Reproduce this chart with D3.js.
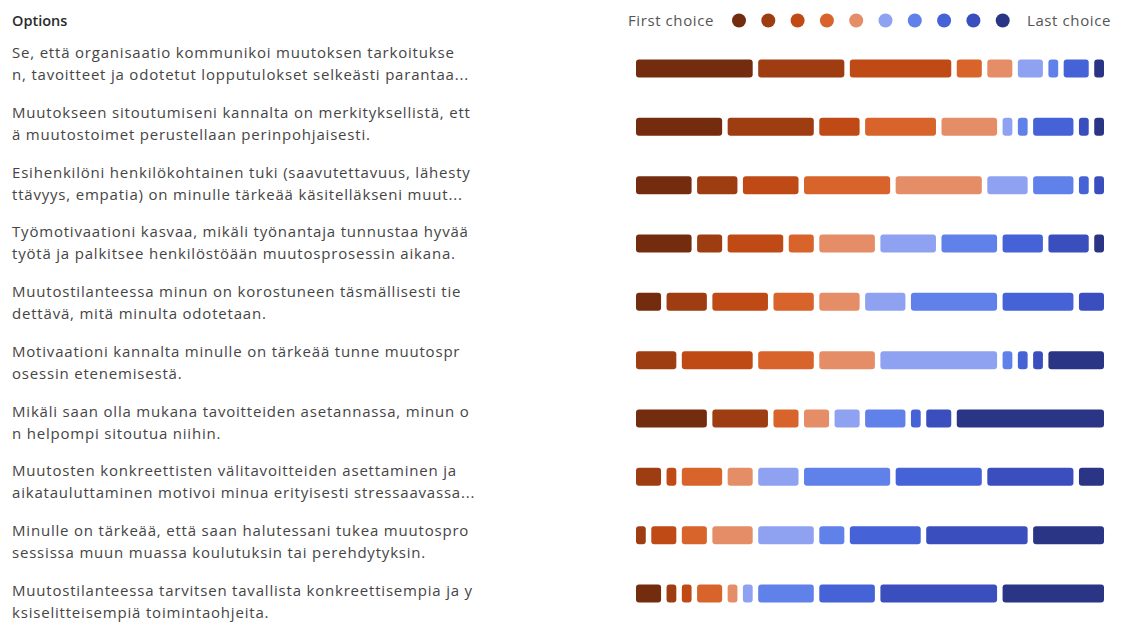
<!DOCTYPE html>
<html><head><meta charset="utf-8">
<script src="https://cdn.jsdelivr.net/npm/d3@7"></script>
<style>
body{margin:0;background:#fff;}
svg text{font-family:"Open Sans","Noto Sans",sans-serif;}
</style>
</head><body>
<svg id="chart" width="1121" height="624"></svg>
<script>
// ---- data ----
const header = "Options";
const legendFirst = "First choice";
const legendLast = "Last choice";
const ranks = [1,2,3,4,5,6,7,8,9,10];
const rankColors = ["#742c0f","#9e3d12","#bf4a15","#d8642b","#e58d66","#8fa2f2","#6080ea","#4563d6","#3a4fbd","#2a3585"];
const optionLines = [
  ["Se, että organisaatio kommunikoi muutoksen tarkoitukse","n, tavoitteet ja odotetut lopputulokset selkeästi parantaa..."],
  ["Muutokseen sitoutumiseni kannalta on merkityksellistä, ett","ä muutostoimet perustellaan perinpohjaisesti."],
  ["Esihenkilöni henkilökohtainen tuki (saavutettavuus, lähesty","ttävyys, empatia) on minulle tärkeää käsitelläkseni muut..."],
  ["Työmotivaationi kasvaa, mikäli työnantaja tunnustaa hyvää","työtä ja palkitsee henkilöstöään muutosprosessin aikana."],
  ["Muutostilanteessa minun on korostuneen täsmällisesti tie","dettävä, mitä minulta odotetaan."],
  ["Motivaationi kannalta minulle on tärkeää tunne muutospr","osessin etenemisestä."],
  ["Mikäli saan olla mukana tavoitteiden asetannassa, minun o","n helpompi sitoutua niihin."],
  ["Muutosten konkreettisten välitavoitteiden asettaminen ja","aikatauluttaminen motivoi minua erityisesti stressaavassa..."],
  ["Minulle on tärkeää, että saan halutessani tukea muutospro","sessissa muun muassa koulutuksin tai perehdytyksin."],
  ["Muutostilanteessa tarvitsen tavallista konkreettisempia ja y","ksiselitteisempiä toimintaohjeita."]
];
// counts of respondents per rank (rank 1 .. rank 10) for each option
const rankCounts = [
  [8,6,7,2,2,2,1,2,0,1],
  [6,6,3,5,4,1,1,3,1,1],
  [4,3,4,6,6,3,3,1,1,0],
  [4,2,4,2,4,4,4,3,3,1],
  [2,3,4,3,3,3,6,5,2,0],
  [0,3,5,4,4,8,1,1,1,4],
  [5,4,0,2,2,2,3,1,2,10],
  [0,2,1,3,2,3,6,6,6,2],
  [0,1,2,2,3,4,2,5,7,5],
  [2,1,1,2,1,1,4,4,8,7]
];

// ---- drawing ----
const svg = d3.select("#chart");
const total = d3.max(rankCounts, r => d3.sum(r));
const x = d3.scaleLinear().domain([0,total]).range([636,1109.5]);
const y = d3.scalePoint().domain(d3.range(optionLines.length)).range([68.5,593.5]);
const yLabel = d3.scalePoint().domain(d3.range(optionLines.length)).range([53,591]);
const color = d3.scaleOrdinal().domain(ranks).range(rankColors);
const gap = 5.5, barH = 18;

svg.append("text").attr("x",12).attr("y",26).attr("font-size",14.5).attr("font-weight",600)
  .attr("fill","#2b2b2b").text(header);

// legend
const lx = d3.scalePoint().domain(ranks).range([739,1002.7]);
svg.append("text").attr("x",714).attr("y",25.5).attr("text-anchor","end").attr("font-size",15)
  .attr("letter-spacing",0.6).attr("fill","#555").text(legendFirst);
svg.append("text").attr("x",1027).attr("y",25.5).attr("font-size",15)
  .attr("letter-spacing",0.6).attr("fill","#555").text(legendLast);
svg.selectAll("circle.leg").data(ranks).join("circle").attr("class","leg")
  .attr("cx",d=>lx(d)).attr("cy",20.5).attr("r",7).attr("fill",d=>color(d));

// labels
svg.selectAll("g.lab").data(optionLines).join("g").attr("class","lab")
  .attr("transform",(d,i)=>`translate(0,${yLabel(i)})`)
  .each(function(lines){
    d3.select(this).selectAll("text").data(lines).join("text")
      .attr("x",12).attr("y",(d,j)=> 5 + j*22)
      .attr("font-size",15).attr("letter-spacing",0.8).attr("fill","#454545").text(d=>d);
  });

// bars
svg.selectAll("g.row").data(rankCounts).join("g").attr("class","row")
  .attr("transform",(d,i)=>`translate(0,${y(i)})`)
  .each(function(counts){
    let cum = 0;
    const segs = counts.map((c,k)=>{const s={rank:ranks[k],start:cum,count:c}; cum+=c; return s;})
      .filter(s=>s.count>0);
    d3.select(this).selectAll("rect").data(segs).join("rect")
      .attr("x",s=>x(s.start)).attr("y",-barH/2)
      .attr("width",s=>x(s.start+s.count)-x(s.start)-gap)
      .attr("height",barH).attr("rx",3).attr("fill",s=>color(s.rank));
  });
</script>
</body></html>
